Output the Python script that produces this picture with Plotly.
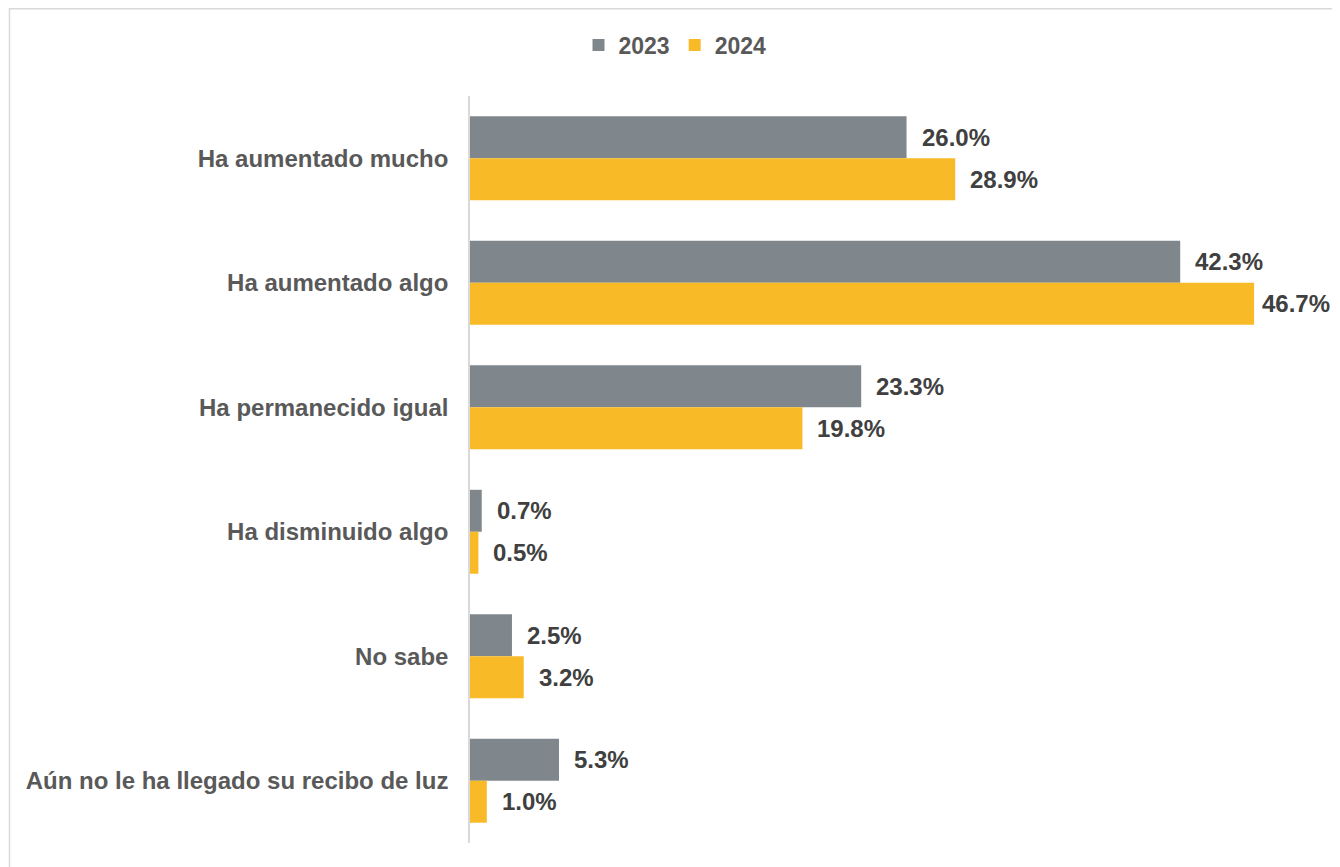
import plotly.graph_objects as go

categories = [
    "Ha aumentado mucho",
    "Ha aumentado algo",
    "Ha permanecido igual",
    "Ha disminuido algo",
    "No sabe",
    "Aún no le ha llegado su recibo de luz",
]
values_2023 = [26.0, 42.3, 23.3, 0.7, 2.5, 5.3]
values_2024 = [28.9, 46.7, 19.8, 0.5, 3.2, 1.0]
series_names = ["2023", "2024"]

# page has an 8px body margin, so the figure is sized to fit the window
W, H = 1328, 859
ML, MR, MT, MB = 462, 6, 88, 24
SCALE = 16.79          # pixels per percentage point
LABEL_W = 68           # approx width of a value label
GREY = "#7f878c"
YELLOW = "#f8ba27"
LABEL_FONT = dict(family="Liberation Sans, Arial, sans-serif", size=24, color="#595959")
VALUE_FONT = dict(family="Liberation Sans, Arial, sans-serif", size=24, color="#404040")

fig = go.Figure()
fig.add_trace(go.Bar(name=series_names[0], y=categories, x=values_2023, orientation="h",
                     marker=dict(color=GREY, line=dict(width=0))))
fig.add_trace(go.Bar(name=series_names[1], y=categories, x=values_2024, orientation="h",
                     marker=dict(color=YELLOW, line=dict(width=0))))

def label_shift(v):
    end = ML + v * SCALE + 13 + LABEL_W
    limit = W - 8
    return 13 if end <= limit else 13 - (end - limit)

annotations = []
for vals, ys in ((values_2023, 21), (values_2024, -21)):
    for cat, v in zip(categories, vals):
        annotations.append(dict(x=v, y=cat, xref="x", yref="y", text=f"<b>{v:.1f}%</b>",
                                showarrow=False, xanchor="left", yanchor="middle",
                                xshift=label_shift(v), yshift=ys, font=VALUE_FONT))

pw = W - ML - MR
ph = H - MT - MB
def px_x(p):
    return (p - ML) / pw
def px_y(p):
    return (H - MB - p) / ph

shapes = [dict(type="rect", xref="paper", yref="paper",
               x0=px_x(1.5), x1=px_x(1327), y0=px_y(880), y1=px_y(0.75),
               line=dict(color="#d9d9d9", width=1.5), fillcolor="rgba(0,0,0,0)", layer="below")]

fig.update_layout(
    width=W, height=H,
    margin=dict(l=ML, r=MR, t=MT, b=MB),
    paper_bgcolor="white", plot_bgcolor="white",
    barmode="group", bargap=0.326, bargroupgap=0,
    showlegend=True,
    legend=dict(orientation="h", xref="container", yref="container",
                x=667 / W, xanchor="center", y=1 - 37 / H, yanchor="middle",
                font=dict(family="Liberation Sans, Arial, sans-serif", size=23, color="#595959"),
                itemwidth=30, tracegroupgap=0, traceorder="normal"),
    xaxis=dict(range=[0, pw / SCALE], showgrid=False, zeroline=False, showticklabels=False,
               showline=False, ticks=""),
    yaxis=dict(autorange="reversed", showgrid=False, zeroline=False, showline=True,
               linecolor="#d9d9d9", linewidth=1.5, ticks="", ticklabelstandoff=15,
               tickfont=LABEL_FONT, tickprefix="<b>", ticksuffix="</b>"),
    annotations=annotations,
    shapes=shapes,
)
fig.for_each_trace(lambda t: t.update(name=f"<b>{t.name}</b>"))

fig.write_html("out.html")
